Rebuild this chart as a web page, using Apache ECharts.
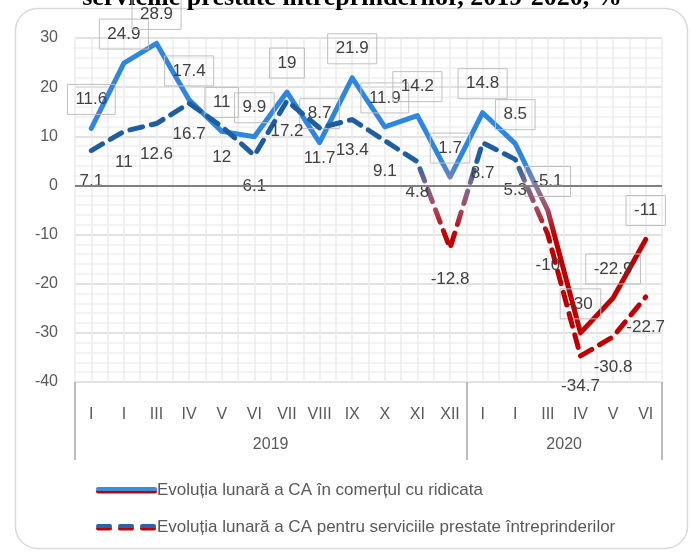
<!DOCTYPE html>
<html>
<head>
<meta charset="utf-8">
<script src="https://cdn.jsdelivr.net/npm/echarts@6/dist/echarts.min.js"></script>
<style>
  html, body { margin: 0; padding: 0; background: #fff; }
  #chart { width: 691px; height: 552px; }
</style>
</head>
<body>
<div id="chart"></div>
<script>
// luni (doua niveluri pe axa X)
const months = ['I', 'I', 'III', 'IV', 'V', 'VI', 'VII', 'VIII', 'IX', 'X', 'XI', 'XII',
  'I', 'I', 'III', 'IV', 'V', 'VI']
const years = ['2019', '2020']
const yearMonths = [12, 6]

const yMin = -40
const yMax = 30
const yStep = 10

const wholesaleName = 'Evoluția lunară a CA în comerțul cu ridicata'
const servicesName = 'Evoluția lunară a CA pentru serviciile prestate întreprinderilor'

const wholesale = [11.6, 24.9, 28.9, 17.4, 11, 9.9, 19, 8.7, 21.9, 11.9, 14.2, 1.7,
  14.8, 8.5, -5.1, -30, -22.9, -11]
const services = [7.1, 11, 12.6, 16.7, 12, 6.1, 17.2, 11.7, 13.4, 9.1, 4.8, -12.8,
  8.7, 5.3, -10, -34.7, -30.8, -22.7]

const FONT = 'Liberation Sans'
const RED = '#c00000'

// pozitii pentru etichetele anilor si separatoare
const yearEdges = [0]
const yearCenters = []
yearMonths.forEach((n, i) => {
  yearCenters.push(yearEdges[i] + n / 2)
  yearEdges.push(yearEdges[i] + n)
})

// gradient rosu -> albastru dupa valoare (pasi de 5 intre -40 si 30)
function ramp(blue, mid) {
  const c = []
  for (let v = yMin; v <= yMax; v += 5) {
    if (v <= -10) c.push(RED)
    else if (v === -5) c.push('#a9445e')
    else if (v === 0) c.push(mid)
    else c.push(blue)
  }
  return c
}

const chart = echarts.init(document.getElementById('chart'), null, { renderer: 'canvas' })

chart.setOption({
  animation: false,
  textStyle: { fontFamily: FONT },
  grid: { left: 75, right: 29, top: 38, bottom: 170 },
  visualMap: [
    { type: 'continuous', show: false, seriesIndex: 0, dimension: 1, min: yMin, max: yMax,
      inRange: { color: ramp('#2e86de', '#8b80a6') } },
    { type: 'continuous', show: false, seriesIndex: 1, dimension: 1, min: yMin, max: yMax,
      inRange: { color: ramp('#1f5e9e', '#7d6a90') } }
  ],
  xAxis: [
    {
      type: 'category',
      data: months,
      boundaryGap: true,
      axisLine: { show: false },
      axisTick: { show: false },
      axisLabel: { interval: 0, margin: 25, fontSize: 16, color: '#595959', fontFamily: FONT },
      splitLine: { show: false }
    },
    {
      // grila verticala la jumatate de luna
      type: 'category',
      data: months.flatMap((m, i) => [i + 'a', i + 'b']),
      boundaryGap: true,
      axisLine: { show: false },
      axisTick: { show: false },
      axisLabel: { show: false },
      splitLine: { show: true, interval: 0, lineStyle: { color: '#ebebeb', width: 1.5 } }
    },
    {
      type: 'value',
      min: 0,
      max: months.length,
      position: 'bottom',
      axisLine: { show: false },
      splitLine: { show: false },
      axisTick: { show: true, customValues: yearEdges, length: 78, inside: false,
        lineStyle: { color: '#a6a6a6', width: 1.5 } },
      axisLabel: { customValues: yearCenters, margin: 55, fontSize: 16, color: '#595959',
        formatter: v => years[yearCenters.indexOf(v)] }
    }
  ],
  yAxis: {
    type: 'value',
    min: yMin,
    max: yMax,
    interval: yStep,
    axisLine: { show: false },
    axisTick: { show: false },
    axisLabel: { fontSize: 16, color: '#595959', margin: 17 },
    splitLine: { lineStyle: { color: '#d9d9d9', width: 1.5 } },
    minorTick: { show: false, splitNumber: 5 },
    minorSplitLine: { show: true, lineStyle: { color: '#efefef', width: 1.5 } }
  },
  series: [
    {
      name: wholesaleName,
      type: 'line',
      data: wholesale,
      symbol: 'circle',
      symbolSize: 0,
      showSymbol: true,
      lineStyle: { width: 5, join: 'round', cap: 'round' },
      label: {
        show: true,
        position: 'top',
        distance: 14,
        fontSize: 17,
        lineHeight: 20,
        color: '#404040',
        padding: [5, 8],
        borderColor: '#bfbfbf',
        borderWidth: 1
      },
      markLine: {
        silent: true,
        symbol: 'none',
        label: { show: false },
        lineStyle: { color: '#808080', width: 2, type: 'solid' },
        data: [{ yAxis: 0 }]
      },
      z: 3
    },
    {
      name: servicesName,
      type: 'line',
      data: services,
      symbol: 'circle',
      symbolSize: 0,
      showSymbol: true,
      lineStyle: { width: 5, type: [13, 9], cap: 'round', join: 'round' },
      label: {
        show: true,
        position: 'bottom',
        distance: 22,
        fontSize: 17,
        color: '#404040'
      },
      z: 4
    }
  ],
  graphic: [
    {
      type: 'rect',
      shape: { x: 15.5, y: 8.5, width: 672, height: 540, r: 22 },
      style: { fill: 'none', stroke: '#d9d9d9', lineWidth: 1.5 },
      silent: true, z: -1
    },
    {
      type: 'text',
      x: 352, y: 11,
      style: {
        text: 'serviciile prestate întreprinderilor, 2019-2020, %',
        font: 'bold 26px "Liberation Serif"',
        fill: '#000', align: 'center', verticalAlign: 'bottom'
      }
    },
    // legenda
    { type: 'line', shape: { x1: 98, y1: 491.5, x2: 155, y2: 491.5 },
      style: { stroke: RED, lineWidth: 4, lineCap: 'round' } },
    { type: 'line', shape: { x1: 98, y1: 489, x2: 155, y2: 489 },
      style: { stroke: '#3a8ee0', lineWidth: 4, lineCap: 'round' } },
    { type: 'text', x: 157, y: 490,
      style: { text: wholesaleName, font: '17px "Liberation Sans"', fill: '#595959', verticalAlign: 'middle' } },
    { type: 'line', shape: { x1: 98, y1: 528.5, x2: 155, y2: 528.5 },
      style: { stroke: RED, lineWidth: 4, lineCap: 'round', lineDash: [12, 10] } },
    { type: 'line', shape: { x1: 98, y1: 526, x2: 155, y2: 526 },
      style: { stroke: '#2a63a8', lineWidth: 4, lineCap: 'round', lineDash: [12, 10] } },
    { type: 'text', x: 157, y: 527,
      style: { text: servicesName, font: '17px "Liberation Sans"', fill: '#595959', verticalAlign: 'middle' } }
  ]
})
</script>
</body>
</html>
